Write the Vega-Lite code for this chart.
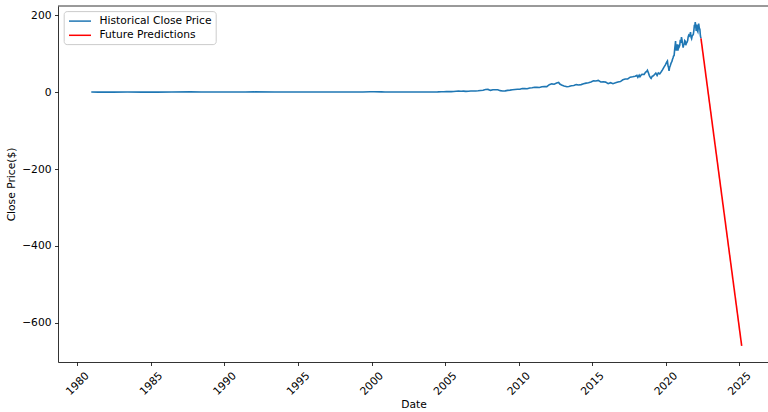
{
  "$schema": "https://vega.github.io/schema/vega-lite/v6.json",
  "autosize": {"type": "none"},
  "padding": {"left": 58, "top": 6, "right": 0, "bottom": 50},
  "width": 711,
  "height": 356,
  "background": "white",
  "config": {
    "font": "DejaVu Sans",
    "view": {"stroke": null},
    "axis": {
      "grid": false,
      "domain": true,
      "domainColor": "black",
      "domainWidth": 0.8,
      "tickColor": "black",
      "tickWidth": 0.8,
      "tickSize": 3.5,
      "labelFont": "DejaVu Sans",
      "labelFontSize": 10.7,
      "labelColor": "black",
      "labelPadding": 3.5,
      "titleFont": "DejaVu Sans",
      "titleFontSize": 10.7,
      "titleFontWeight": "normal",
      "titleColor": "black"
    }
  },
  "layer": [
    {
      "data": {
        "values": [
          {"date": "1980-12-12", "price": 0.13, "series": "Historical Close Price"},
          {"date": "1981-06-01", "price": 0.1, "series": "Historical Close Price"},
          {"date": "1982-06-01", "price": 0.07, "series": "Historical Close Price"},
          {"date": "1983-06-01", "price": 0.25, "series": "Historical Close Price"},
          {"date": "1984-06-01", "price": 0.1, "series": "Historical Close Price"},
          {"date": "1985-06-01", "price": 0.07, "series": "Historical Close Price"},
          {"date": "1986-06-01", "price": 0.14, "series": "Historical Close Price"},
          {"date": "1987-09-01", "price": 0.5, "series": "Historical Close Price"},
          {"date": "1988-06-01", "price": 0.33, "series": "Historical Close Price"},
          {"date": "1989-06-01", "price": 0.3, "series": "Historical Close Price"},
          {"date": "1990-06-01", "price": 0.3, "series": "Historical Close Price"},
          {"date": "1991-06-01", "price": 0.4, "series": "Historical Close Price"},
          {"date": "1992-01-01", "price": 0.5, "series": "Historical Close Price"},
          {"date": "1993-06-01", "price": 0.3, "series": "Historical Close Price"},
          {"date": "1994-06-01", "price": 0.25, "series": "Historical Close Price"},
          {"date": "1995-06-01", "price": 0.35, "series": "Historical Close Price"},
          {"date": "1996-06-01", "price": 0.18, "series": "Historical Close Price"},
          {"date": "1997-12-01", "price": 0.12, "series": "Historical Close Price"},
          {"date": "1998-06-01", "price": 0.25, "series": "Historical Close Price"},
          {"date": "1999-06-01", "price": 0.4, "series": "Historical Close Price"},
          {"date": "1999-12-01", "price": 0.9, "series": "Historical Close Price"},
          {"date": "2000-03-01", "price": 1.0, "series": "Historical Close Price"},
          {"date": "2000-09-01", "price": 0.5, "series": "Historical Close Price"},
          {"date": "2000-12-01", "price": 0.27, "series": "Historical Close Price"},
          {"date": "2001-06-01", "price": 0.35, "series": "Historical Close Price"},
          {"date": "2002-06-01", "price": 0.3, "series": "Historical Close Price"},
          {"date": "2003-04-01", "price": 0.23, "series": "Historical Close Price"},
          {"date": "2003-10-01", "price": 0.4, "series": "Historical Close Price"},
          {"date": "2004-01-01", "price": 0.4, "series": "Historical Close Price"},
          {"date": "2004-04-01", "price": 0.46, "series": "Historical Close Price"},
          {"date": "2004-07-01", "price": 0.58, "series": "Historical Close Price"},
          {"date": "2004-10-01", "price": 0.93, "series": "Historical Close Price"},
          {"date": "2004-12-01", "price": 1.15, "series": "Historical Close Price"},
          {"date": "2005-02-01", "price": 1.6, "series": "Historical Close Price"},
          {"date": "2005-04-01", "price": 1.2, "series": "Historical Close Price"},
          {"date": "2005-06-01", "price": 1.3, "series": "Historical Close Price"},
          {"date": "2005-08-01", "price": 1.7, "series": "Historical Close Price"},
          {"date": "2005-10-01", "price": 2.1, "series": "Historical Close Price"},
          {"date": "2005-12-01", "price": 2.6, "series": "Historical Close Price"},
          {"date": "2006-02-01", "price": 2.4, "series": "Historical Close Price"},
          {"date": "2006-04-01", "price": 2.5, "series": "Historical Close Price"},
          {"date": "2006-06-01", "price": 2.0, "series": "Historical Close Price"},
          {"date": "2006-08-01", "price": 2.4, "series": "Historical Close Price"},
          {"date": "2006-10-01", "price": 2.9, "series": "Historical Close Price"},
          {"date": "2006-12-01", "price": 3.0, "series": "Historical Close Price"},
          {"date": "2007-02-01", "price": 3.0, "series": "Historical Close Price"},
          {"date": "2007-04-01", "price": 3.6, "series": "Historical Close Price"},
          {"date": "2007-06-01", "price": 4.4, "series": "Historical Close Price"},
          {"date": "2007-08-01", "price": 4.9, "series": "Historical Close Price"},
          {"date": "2007-10-01", "price": 6.8, "series": "Historical Close Price"},
          {"date": "2007-12-01", "price": 7.1, "series": "Historical Close Price"},
          {"date": "2008-02-01", "price": 4.5, "series": "Historical Close Price"},
          {"date": "2008-04-01", "price": 6.3, "series": "Historical Close Price"},
          {"date": "2008-06-01", "price": 6.0, "series": "Historical Close Price"},
          {"date": "2008-08-01", "price": 6.1, "series": "Historical Close Price"},
          {"date": "2008-10-01", "price": 3.8, "series": "Historical Close Price"},
          {"date": "2008-12-01", "price": 3.0, "series": "Historical Close Price"},
          {"date": "2009-02-01", "price": 3.2, "series": "Historical Close Price"},
          {"date": "2009-04-01", "price": 4.5, "series": "Historical Close Price"},
          {"date": "2009-06-01", "price": 5.1, "series": "Historical Close Price"},
          {"date": "2009-08-01", "price": 6.0, "series": "Historical Close Price"},
          {"date": "2009-10-01", "price": 6.7, "series": "Historical Close Price"},
          {"date": "2009-12-01", "price": 7.5, "series": "Historical Close Price"},
          {"date": "2010-02-01", "price": 7.3, "series": "Historical Close Price"},
          {"date": "2010-04-01", "price": 9.3, "series": "Historical Close Price"},
          {"date": "2010-06-01", "price": 9.0, "series": "Historical Close Price"},
          {"date": "2010-08-01", "price": 8.7, "series": "Historical Close Price"},
          {"date": "2010-10-01", "price": 10.8, "series": "Historical Close Price"},
          {"date": "2010-12-01", "price": 11.5, "series": "Historical Close Price"},
          {"date": "2011-02-01", "price": 12.6, "series": "Historical Close Price"},
          {"date": "2011-04-01", "price": 12.4, "series": "Historical Close Price"},
          {"date": "2011-06-01", "price": 11.9, "series": "Historical Close Price"},
          {"date": "2011-08-01", "price": 13.8, "series": "Historical Close Price"},
          {"date": "2011-10-01", "price": 14.4, "series": "Historical Close Price"},
          {"date": "2011-12-01", "price": 14.4, "series": "Historical Close Price"},
          {"date": "2012-02-01", "price": 19.4, "series": "Historical Close Price"},
          {"date": "2012-04-01", "price": 21.5, "series": "Historical Close Price"},
          {"date": "2012-06-01", "price": 20.5, "series": "Historical Close Price"},
          {"date": "2012-08-01", "price": 23.6, "series": "Historical Close Price"},
          {"date": "2012-09-20", "price": 25.1, "series": "Historical Close Price"},
          {"date": "2012-10-20", "price": 21.0, "series": "Historical Close Price"},
          {"date": "2012-12-01", "price": 18.5, "series": "Historical Close Price"},
          {"date": "2013-02-01", "price": 16.0, "series": "Historical Close Price"},
          {"date": "2013-04-15", "price": 14.0, "series": "Historical Close Price"},
          {"date": "2013-06-01", "price": 14.5, "series": "Historical Close Price"},
          {"date": "2013-08-01", "price": 16.5, "series": "Historical Close Price"},
          {"date": "2013-10-01", "price": 17.0, "series": "Historical Close Price"},
          {"date": "2013-12-01", "price": 19.5, "series": "Historical Close Price"},
          {"date": "2014-02-01", "price": 18.5, "series": "Historical Close Price"},
          {"date": "2014-04-01", "price": 19.5, "series": "Historical Close Price"},
          {"date": "2014-06-01", "price": 21.5, "series": "Historical Close Price"},
          {"date": "2014-08-01", "price": 23.4, "series": "Historical Close Price"},
          {"date": "2014-10-01", "price": 24.2, "series": "Historical Close Price"},
          {"date": "2014-12-01", "price": 26.5, "series": "Historical Close Price"},
          {"date": "2015-02-01", "price": 29.5, "series": "Historical Close Price"},
          {"date": "2015-04-01", "price": 29.0, "series": "Historical Close Price"},
          {"date": "2015-06-01", "price": 30.5, "series": "Historical Close Price"},
          {"date": "2015-08-01", "price": 26.5, "series": "Historical Close Price"},
          {"date": "2015-10-01", "price": 27.0, "series": "Historical Close Price"},
          {"date": "2015-12-01", "price": 26.0, "series": "Historical Close Price"},
          {"date": "2016-02-01", "price": 22.0, "series": "Historical Close Price"},
          {"date": "2016-04-01", "price": 24.5, "series": "Historical Close Price"},
          {"date": "2016-06-01", "price": 22.0, "series": "Historical Close Price"},
          {"date": "2016-08-01", "price": 24.1, "series": "Historical Close Price"},
          {"date": "2016-10-01", "price": 26.5, "series": "Historical Close Price"},
          {"date": "2016-12-01", "price": 27.5, "series": "Historical Close Price"},
          {"date": "2017-02-01", "price": 32.0, "series": "Historical Close Price"},
          {"date": "2017-04-01", "price": 34.0, "series": "Historical Close Price"},
          {"date": "2017-06-01", "price": 34.5, "series": "Historical Close Price"},
          {"date": "2017-08-01", "price": 38.9, "series": "Historical Close Price"},
          {"date": "2017-10-01", "price": 39.9, "series": "Historical Close Price"},
          {"date": "2017-12-01", "price": 41.5, "series": "Historical Close Price"},
          {"date": "2018-01-15", "price": 43.5, "series": "Historical Close Price"},
          {"date": "2018-02-08", "price": 38.5, "series": "Historical Close Price"},
          {"date": "2018-03-12", "price": 44.0, "series": "Historical Close Price"},
          {"date": "2018-04-01", "price": 40.0, "series": "Historical Close Price"},
          {"date": "2018-05-10", "price": 46.0, "series": "Historical Close Price"},
          {"date": "2018-06-15", "price": 46.5, "series": "Historical Close Price"},
          {"date": "2018-07-15", "price": 46.0, "series": "Historical Close Price"},
          {"date": "2018-08-15", "price": 51.5, "series": "Historical Close Price"},
          {"date": "2018-09-15", "price": 54.0, "series": "Historical Close Price"},
          {"date": "2018-10-03", "price": 57.0, "series": "Historical Close Price"},
          {"date": "2018-10-25", "price": 51.0, "series": "Historical Close Price"},
          {"date": "2018-11-20", "price": 43.0, "series": "Historical Close Price"},
          {"date": "2018-12-24", "price": 36.5, "series": "Historical Close Price"},
          {"date": "2019-01-03", "price": 35.5, "series": "Historical Close Price"},
          {"date": "2019-02-01", "price": 41.5, "series": "Historical Close Price"},
          {"date": "2019-03-01", "price": 42.5, "series": "Historical Close Price"},
          {"date": "2019-04-30", "price": 49.5, "series": "Historical Close Price"},
          {"date": "2019-06-01", "price": 43.5, "series": "Historical Close Price"},
          {"date": "2019-07-01", "price": 50.0, "series": "Historical Close Price"},
          {"date": "2019-08-05", "price": 47.5, "series": "Historical Close Price"},
          {"date": "2019-09-15", "price": 53.5, "series": "Historical Close Price"},
          {"date": "2019-10-15", "price": 58.5, "series": "Historical Close Price"},
          {"date": "2019-11-15", "price": 64.5, "series": "Historical Close Price"},
          {"date": "2019-12-27", "price": 71.5, "series": "Historical Close Price"},
          {"date": "2020-01-24", "price": 78.0, "series": "Historical Close Price"},
          {"date": "2020-02-12", "price": 81.0, "series": "Historical Close Price"},
          {"date": "2020-02-28", "price": 67.5, "series": "Historical Close Price"},
          {"date": "2020-03-09", "price": 65.0, "series": "Historical Close Price"},
          {"date": "2020-03-23", "price": 55.0, "series": "Historical Close Price"},
          {"date": "2020-04-06", "price": 64.5, "series": "Historical Close Price"},
          {"date": "2020-04-20", "price": 68.0, "series": "Historical Close Price"},
          {"date": "2020-05-04", "price": 72.5, "series": "Historical Close Price"},
          {"date": "2020-05-18", "price": 77.0, "series": "Historical Close Price"},
          {"date": "2020-06-01", "price": 79.0, "series": "Historical Close Price"},
          {"date": "2020-06-15", "price": 85.0, "series": "Historical Close Price"},
          {"date": "2020-06-29", "price": 89.0, "series": "Historical Close Price"},
          {"date": "2020-07-13", "price": 94.0, "series": "Historical Close Price"},
          {"date": "2020-07-27", "price": 95.0, "series": "Historical Close Price"},
          {"date": "2020-08-10", "price": 111.0, "series": "Historical Close Price"},
          {"date": "2020-08-24", "price": 124.0, "series": "Historical Close Price"},
          {"date": "2020-09-01", "price": 133.0, "series": "Historical Close Price"},
          {"date": "2020-09-08", "price": 112.0, "series": "Historical Close Price"},
          {"date": "2020-09-21", "price": 108.0, "series": "Historical Close Price"},
          {"date": "2020-10-12", "price": 124.0, "series": "Historical Close Price"},
          {"date": "2020-10-30", "price": 108.0, "series": "Historical Close Price"},
          {"date": "2020-11-16", "price": 120.0, "series": "Historical Close Price"},
          {"date": "2020-11-30", "price": 118.0, "series": "Historical Close Price"},
          {"date": "2020-12-14", "price": 122.0, "series": "Historical Close Price"},
          {"date": "2020-12-28", "price": 136.0, "series": "Historical Close Price"},
          {"date": "2021-01-11", "price": 128.0, "series": "Historical Close Price"},
          {"date": "2021-01-26", "price": 143.0, "series": "Historical Close Price"},
          {"date": "2021-02-08", "price": 136.0, "series": "Historical Close Price"},
          {"date": "2021-02-22", "price": 125.0, "series": "Historical Close Price"},
          {"date": "2021-03-08", "price": 116.0, "series": "Historical Close Price"},
          {"date": "2021-03-22", "price": 123.0, "series": "Historical Close Price"},
          {"date": "2021-04-05", "price": 125.0, "series": "Historical Close Price"},
          {"date": "2021-04-16", "price": 134.0, "series": "Historical Close Price"},
          {"date": "2021-05-03", "price": 132.0, "series": "Historical Close Price"},
          {"date": "2021-05-12", "price": 122.0, "series": "Historical Close Price"},
          {"date": "2021-05-27", "price": 127.0, "series": "Historical Close Price"},
          {"date": "2021-06-14", "price": 130.0, "series": "Historical Close Price"},
          {"date": "2021-06-28", "price": 134.0, "series": "Historical Close Price"},
          {"date": "2021-07-12", "price": 144.0, "series": "Historical Close Price"},
          {"date": "2021-07-26", "price": 148.0, "series": "Historical Close Price"},
          {"date": "2021-08-09", "price": 146.0, "series": "Historical Close Price"},
          {"date": "2021-08-23", "price": 149.0, "series": "Historical Close Price"},
          {"date": "2021-09-07", "price": 156.0, "series": "Historical Close Price"},
          {"date": "2021-09-20", "price": 143.0, "series": "Historical Close Price"},
          {"date": "2021-10-04", "price": 139.0, "series": "Historical Close Price"},
          {"date": "2021-10-18", "price": 146.0, "series": "Historical Close Price"},
          {"date": "2021-11-01", "price": 148.0, "series": "Historical Close Price"},
          {"date": "2021-11-15", "price": 150.0, "series": "Historical Close Price"},
          {"date": "2021-11-29", "price": 160.0, "series": "Historical Close Price"},
          {"date": "2021-12-13", "price": 175.0, "series": "Historical Close Price"},
          {"date": "2021-12-20", "price": 168.0, "series": "Historical Close Price"},
          {"date": "2022-01-03", "price": 182.0, "series": "Historical Close Price"},
          {"date": "2022-01-14", "price": 173.0, "series": "Historical Close Price"},
          {"date": "2022-01-27", "price": 159.0, "series": "Historical Close Price"},
          {"date": "2022-02-09", "price": 176.0, "series": "Historical Close Price"},
          {"date": "2022-02-23", "price": 160.0, "series": "Historical Close Price"},
          {"date": "2022-03-08", "price": 157.0, "series": "Historical Close Price"},
          {"date": "2022-03-29", "price": 178.0, "series": "Historical Close Price"},
          {"date": "2022-04-12", "price": 167.0, "series": "Historical Close Price"},
          {"date": "2022-04-28", "price": 163.0, "series": "Historical Close Price"},
          {"date": "2022-05-11", "price": 146.0, "series": "Historical Close Price"},
          {"date": "2022-05-25", "price": 140.0, "series": "Historical Close Price"},
          {"date": "2022-05-25", "price": 140.0, "series": "Future Predictions"},
          {"date": "2025-03-01", "price": -660.0, "series": "Future Predictions"}
        ]
      },
      "mark": {"type": "line", "strokeWidth": 1.6, "clip": true},
      "encoding": {
        "x": {
          "field": "date",
          "type": "temporal",
          "title": "Date",
          "scale": {"type": "utc", "domain": ["1978-09-08", "2027-01-08"], "nice": false},
          "axis": {
            "values": [
              {"year": 1980, "utc": true}, {"year": 1985, "utc": true},
              {"year": 1990, "utc": true}, {"year": 1995, "utc": true},
              {"year": 2000, "utc": true}, {"year": 2005, "utc": true},
              {"year": 2010, "utc": true}, {"year": 2015, "utc": true},
              {"year": 2020, "utc": true}, {"year": 2025, "utc": true}
            ],
            "format": "%Y",
            "labelAngle": -45,
            "labelAlign": "center",
            "labelBaseline": "middle",
            "labelPadding": 18,
            "labelFlush": false,
            "labelOverlap": false,
            "titlePadding": 3
          }
        },
        "y": {
          "field": "price",
          "type": "quantitative",
          "title": "Close Price($)",
          "scale": {"domain": [-702, 224], "nice": false, "zero": false},
          "axis": {
            "values": [-600, -400, -200, 0, 200],
            "format": "d",
            "titlePadding": 5
          }
        },
        "color": {
          "field": "series",
          "type": "nominal",
          "scale": {
            "domain": ["Historical Close Price", "Future Predictions"],
            "range": ["#1f77b4", "#ff0000"]
          },
          "legend": {
            "title": null,
            "orient": "none",
            "legendX": 5.7,
            "legendY": 5.1,
            "symbolType": "M-2,0H2",
            "symbolSize": 121,
            "symbolStrokeWidth": 1.5,
            "symbolOffset": 6.3,
            "labelOffset": 13,
            "labelFont": "DejaVu Sans",
            "labelFontSize": 10.7,
            "labelColor": "black",
            "rowPadding": 2.2,
            "padding": 3.5,
            "fillColor": "rgba(255,255,255,0.8)",
            "strokeColor": "#cccccc",
            "cornerRadius": 3
          }
        },
        "order": {"field": "date", "type": "temporal"}
      }
    },
    {
      "data": {"values": [{"top": 224}]},
      "mark": {"type": "rule", "color": "black", "strokeWidth": 0.8},
      "encoding": {
        "y": {"field": "top", "type": "quantitative"}
      }
    }
  ]
}
